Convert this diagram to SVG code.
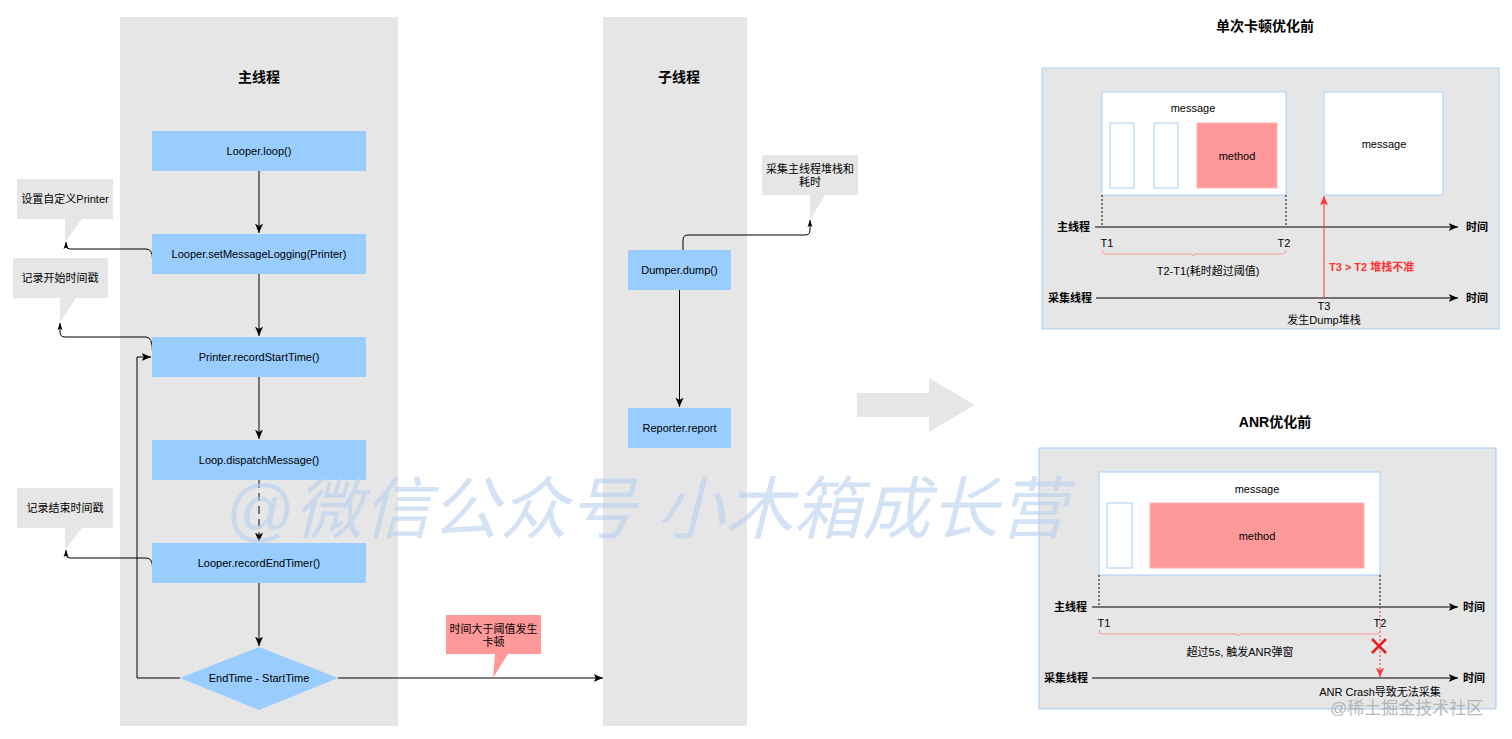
<svg xmlns="http://www.w3.org/2000/svg" width="1512" height="739" viewBox="0 0 1512 739">
<defs>
<style>
text{font-family:"Liberation Sans",Arial,"Noto Sans CJK SC",sans-serif;font-size:11px;fill:#000;}
.c{text-anchor:middle;}
.r{text-anchor:end;}
.b{font-weight:bold;}
.t{font-size:14px;font-weight:bold;text-anchor:middle;}
.col{fill:#e6e6e6;}
.box{fill:#99ccff;}
.ln{fill:none;stroke:#000;stroke-width:1;}
.panel{fill:#e6e6e6;stroke:#a9cdf5;stroke-width:1;}
.wbox{fill:#fff;stroke:#a9cdf5;stroke-width:1;}
.meth{fill:#ff9999;stroke:#ffb3b3;stroke-width:1;}
.dot{fill:none;stroke:#000;stroke-width:1;stroke-dasharray:2 2;}
.brace{fill:none;stroke:#ff9999;stroke-width:1;}
</style>
<marker id="ah" markerUnits="userSpaceOnUse" markerWidth="10" markerHeight="10" viewBox="0 0 8 8" refX="7.5" refY="4" orient="auto">
<path d="M0,0.8 L7.5,4 L0,7.2 L1.8,4 Z" fill="#000"/>
</marker>
<marker id="ahr" markerUnits="userSpaceOnUse" markerWidth="10" markerHeight="10" viewBox="0 0 8 8" refX="7.5" refY="4" orient="auto">
<path d="M0,0.8 L7.5,4 L0,7.2 L1.8,4 Z" fill="#ff3333"/>
</marker>
<marker id="ahs" markerUnits="userSpaceOnUse" markerWidth="8" markerHeight="8" viewBox="0 0 8 8" refX="7" refY="4" orient="auto">
<path d="M0,1.5 L7,4 L0,6.5 L1.5,4 Z" fill="#000"/>
</marker>
</defs>

<g id="lanes">
<rect id="main-lane" class="col" x="120" y="17" width="278" height="709"/>
<rect id="sub-lane" class="col" x="603" y="17" width="144" height="709"/>
<text class="t" x="259" y="82">主线程</text>
<text class="t" x="679" y="82">子线程</text>
</g>

<g id="connectors">
<path class="ln" d="M259,171 L259,233" marker-end="url(#ah)"/>
<path class="ln" d="M259,274 L259,336" marker-end="url(#ah)"/>
<path class="ln" d="M259,377 L259,439" marker-end="url(#ah)"/>
<path class="ln" d="M259,480 L259,542" stroke-dasharray="8 5" marker-end="url(#ah)"/>
<path class="ln" d="M259,583 L259,646" marker-end="url(#ah)"/>
<path class="ln" d="M180,678 L137,678 L137,357 L151,357" marker-end="url(#ah)"/>
<path class="ln" d="M338,678 L603,678" marker-end="url(#ah)"/>
<path class="ln" d="M152.5,259 Q152.5,249 146,249 L70,249 Q66,249 66,245 L66,242" marker-end="url(#ahs)"/>
<path class="ln" d="M152.5,352 Q152.5,337 146,337 L65,337 Q60,337 60,332 L60,323" marker-end="url(#ahs)"/>
<path class="ln" d="M152.5,567 Q152.5,558 146,558 L70,558 Q66,558 66,554 L66,550" marker-end="url(#ahs)"/>
<path class="ln" d="M679.5,290 L679.5,407" marker-end="url(#ah)"/>
<path class="ln" d="M683,250 L683,240 Q683,235 688,235 L805,235 Q810,235 810,230 L810,220" marker-end="url(#ahs)"/>
</g>

<g id="n-loop"><rect class="box" x="152" y="131" width="214" height="40"/><text class="c" x="259" y="155">Looper.loop()</text></g>
<g id="n-setlogging"><rect class="box" x="152" y="234" width="214" height="40"/><text class="c" x="259" y="258">Looper.setMessageLogging(Printer)</text></g>
<g id="n-recordstart"><rect class="box" x="152" y="337" width="214" height="40"/><text class="c" x="259" y="361">Printer.recordStartTime()</text></g>
<g id="n-dispatch"><rect class="box" x="152" y="440" width="214" height="40"/><text class="c" x="259" y="464">Loop.dispatchMessage()</text></g>
<g id="n-recordend"><rect class="box" x="152" y="543" width="214" height="40"/><text class="c" x="259" y="567">Looper.recordEndTimer()</text></g>
<g id="n-diff"><polygon class="box" points="259,647 338,678 259,710 180,678"/><text class="c" x="259" y="682">EndTime - StartTime</text></g>
<g id="n-dump"><rect class="box" x="628" y="250" width="103" height="40"/><text class="c" x="679.5" y="274">Dumper.dump()</text></g>
<g id="n-report"><rect class="box" x="628" y="408" width="103" height="40"/><text class="c" x="679.5" y="432">Reporter.report</text></g>

<g id="callout-printer"><path class="col" d="M17,179 H113 V219 H82 L65,242 V219 H17 Z"/><text class="c" x="65" y="203">设置自定义Printer</text></g>
<g id="callout-start"><path class="col" d="M13,258 H108 V298 H76 L60,323 V298 H13 Z"/><text class="c" x="60" y="282">记录开始时间戳</text></g>
<g id="callout-end"><path class="col" d="M17,488 H113 V528 H82 L65,550 V528 H17 Z"/><text class="c" x="65" y="512">记录结束时间戳</text></g>
<g id="callout-collect"><path class="col" d="M762,155 H858 V195 H825 L810,220 V195 H762 Z"/><text class="c" x="810" y="173">采集主线程堆栈和</text><text class="c" x="810" y="186">耗时</text></g>
<g id="callout-jank"><path d="M446,615 H541 V654 H508 L493,678 L495,654 H446 Z" fill="#ff9999"/><text class="c" x="493.5" y="633">时间大于阈值发生</text><text class="c" x="493.5" y="646">卡顿</text></g>

<g id="big-arrow"><path class="col" d="M857,393 H929 V378 L975,405 L929,432 V417 H857 Z"/></g>

<g id="panel-jank">
<text class="t" x="1265" y="31">单次卡顿优化前</text>
<rect class="panel" x="1042" y="68" width="457" height="261"/>
<rect class="wbox" x="1102" y="92" width="184" height="103"/>
<text class="c" x="1193" y="112">message</text>
<rect class="wbox" x="1110" y="123" width="24" height="65"/>
<rect class="wbox" x="1154" y="123" width="24" height="65"/>
<rect class="meth" x="1197" y="123" width="80" height="65"/>
<text class="c" x="1237" y="160">method</text>
<rect class="wbox" x="1324" y="92" width="119" height="103"/>
<text class="c" x="1384" y="148">message</text>
<path class="dot" d="M1102,195 V227 M1286,195 V227"/>
<path class="ln" d="M1095,227 H1458" marker-end="url(#ah)"/>
<path class="ln" d="M1096,298 H1458" marker-end="url(#ah)"/>
<text class="r b" x="1090" y="231">主线程</text>
<text class="r b" x="1092" y="302">采集线程</text>
<text class="b" x="1466" y="231">时间</text>
<text class="b" x="1466" y="302">时间</text>
<text class="c" x="1107" y="247">T1</text>
<text class="c" x="1284" y="247">T2</text>
<path class="brace" d="M1102,250 Q1102,254 1106,254 L1189,254 Q1193,254 1193,256 Q1193,254 1197,254 L1282,254 Q1286,254 1286,250"/>
<text class="c" x="1208" y="275">T2-T1(耗时超过阈值)</text>
<path d="M1324,298 V196" fill="none" stroke="#ff3333" stroke-width="1" marker-end="url(#ahr)"/>
<text class="b" x="1329" y="271" style="fill:#ff3333">T3 &gt; T2 堆栈不准</text>
<text class="c" x="1324" y="310">T3</text>
<text class="c" x="1324" y="324">发生Dump堆栈</text>
</g>

<g id="panel-anr">
<text class="t" x="1275" y="427">ANR优化前</text>
<rect class="panel" x="1039" y="448" width="457" height="261"/>
<rect class="wbox" x="1099" y="472" width="281" height="103"/>
<text class="c" x="1257" y="493">message</text>
<rect class="wbox" x="1107" y="503" width="25" height="65"/>
<rect class="meth" x="1150" y="503" width="214" height="65"/>
<text class="c" x="1257" y="540">method</text>
<path class="dot" d="M1099,575 V607 M1380,575 V607"/>
<path d="M1380,607 V677" fill="none" stroke="#ff3333" stroke-width="1" stroke-dasharray="2 2" marker-end="url(#ahr)"/>
<path class="ln" d="M1092,607 H1458" marker-end="url(#ah)"/>
<path class="ln" d="M1092,678 H1458" marker-end="url(#ah)"/>
<text class="r b" x="1087" y="611">主线程</text>
<text class="r b" x="1088" y="682">采集线程</text>
<text class="b" x="1463" y="611">时间</text>
<text class="b" x="1463" y="682">时间</text>
<text class="c" x="1104" y="627">T1</text>
<text class="c" x="1380" y="627">T2</text>
<path class="brace" d="M1099,630 Q1099,634 1103,634 L1235,634 Q1239,634 1239,636 Q1239,634 1243,634 L1376,634 Q1380,634 1380,630"/>
<text class="c" x="1240" y="656">超过5s, 触发ANR弹窗</text>
<path d="M1372,639 L1386,653 M1386,639 L1372,653" stroke="#e62020" stroke-width="2.5" fill="none"/>
<text class="c" x="1380" y="696">ANR Crash导致无法采集</text>
</g>

<g id="watermarks">
<text x="225" y="533" style="font-size:68px;font-style:italic;letter-spacing:0.5px;fill:#b8d0f0;opacity:0.6">@微信公众号 小木箱成长营</text>
<text x="1330" y="714" style="font-size:17px;fill:#a8a8a8;opacity:0.8">@稀土掘金技术社区</text>
</g>
</svg>
